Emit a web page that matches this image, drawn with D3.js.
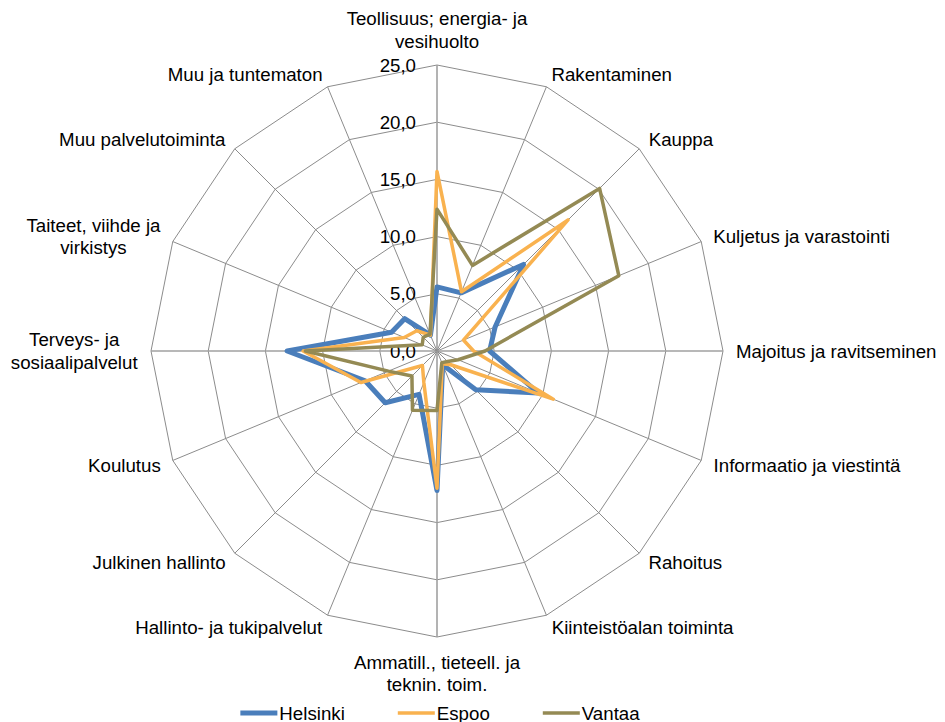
<!DOCTYPE html>
<html><head><meta charset="utf-8">
<script src="https://cdn.jsdelivr.net/npm/d3@7"></script>
<style>
body{margin:0;background:#fff}
svg{display:block}
text{font-family:"Liberation Sans",Arial,sans-serif;fill:#000}
</style>
</head><body>
<svg id="chart" width="945" height="722"></svg>
<script>
const categories = [
  "Teollisuus; energia- ja\nvesihuolto",
  "Rakentaminen",
  "Kauppa",
  "Kuljetus ja varastointi",
  "Majoitus ja ravitseminen",
  "Informaatio ja viestintä",
  "Rahoitus",
  "Kiinteistöalan toiminta",
  "Ammatill., tieteell. ja\nteknin. toim.",
  "Hallinto- ja tukipalvelut",
  "Julkinen hallinto",
  "Koulutus",
  "Terveys- ja\nsosiaalipalvelut",
  "Taiteet, viihde ja\nvirkistys",
  "Muu palvelutoiminta",
  "Muu ja tuntematon"
];
const helsinki = [5.6, 5.5, 10.7, 5.5, 4.6, 9.6, 4.8, 1.3, 12.2, 4.1, 6.4, 6.8, 13.1, 4.3, 4.0, 1.5];
const espoo    = [15.7, 5.6, 16.2, 2.5, 3.2, 11.0, 1.7, 1.2, 12.0, 3.0, 1.8, 7.2, 11.7, 3.1, 2.5, 1.5];
const vantaa   = [12.4, 8.1, 20.1, 17.2, 4.2, 2.0, 1.3, 1.1, 5.2, 5.6, 3.1, 4.6, 11.5, 1.4, 1.7, 1.6];
const seriesNames = ["Helsinki", "Espoo", "Vantaa"];
const tickValues = [0, 5, 10, 15, 20, 25];
const tickLabels = ["0,0", "5,0", "10,0", "15,0", "20,0", "25,0"];

const series = [
  {name: seriesNames[0], values: helsinki, color: "#4a7ebb", width: 5},
  {name: seriesNames[1], values: espoo,    color: "#f9b24f", width: 3.5},
  {name: seriesNames[2], values: vantaa,   color: "#948a54", width: 3.5}
];

const svg = d3.select("#chart");
const cx = 437, cy = 351, R = 286;
const FS = 18.7, LH = 22.5;
const n = categories.length;
const rScale = d3.scaleLinear().domain([0, 25]).range([0, R]);
const aScale = d3.scaleLinear().domain([0, n]).range([0, 2 * Math.PI]);

const g = svg.append("g").attr("transform", `translate(${cx},${cy})`);

// grid rings
const ringLine = d3.lineRadial().curve(d3.curveLinearClosed);
tickValues.filter(t => t > 0).forEach(t => {
  g.append("path")
    .attr("d", ringLine(categories.map((c, i) => [aScale(i), rScale(t)])))
    .attr("fill", "none").attr("stroke", "#8c8c8c").attr("stroke-width", 1);
});

// spokes
categories.forEach((c, i) => {
  const a = aScale(i);
  const main = i % 4 === 0;
  g.append("line")
    .attr("x1", 0).attr("y1", 0)
    .attr("x2", Math.sin(a) * rScale(25)).attr("y2", -Math.cos(a) * rScale(25))
    .attr("stroke", main ? "#a0a0a0" : "#8c8c8c")
    .attr("stroke-width", main ? 1.6 : 1);
});

// tick labels
tickValues.forEach((t, i) => {
  g.append("text")
    .attr("x", -21).attr("y", -rScale(t))
    .attr("text-anchor", "end").attr("dominant-baseline", "central")
    .attr("font-size", FS)
    .text(tickLabels[i]);
});

// category labels
categories.forEach((c, i) => {
  const a = aScale(i);
  const s = Math.sin(a), co = -Math.cos(a);
  const ax = Math.sin(a) * (R + 13), ay = -Math.cos(a) * (R + 13);
  const lines = c.split("\n");
  const t = g.append("text").attr("font-size", FS).attr("text-anchor", "middle");
  lines.forEach((ln, k) => {
    t.append("tspan").attr("x", 0).attr("y", k * LH).attr("dominant-baseline", "central").text(ln);
  });
  const w = t.node().getBBox().width;
  const blockH = (lines.length - 1) * LH;
  let tx, ty;
  if (Math.abs(s) < 0.1) {
    tx = ax;
    if (co < 0) ty = ay - 11 - blockH; else ty = ay + 12;
  } else {
    tx = s > 0 ? ax + w / 2 : ax - w / 2;
    ty = ay - blockH / 2;
  }
  t.attr("transform", `translate(${tx},${ty})`);
});

// series
const radial = d3.lineRadial()
  .angle((d, i) => aScale(i))
  .radius(d => rScale(d))
  .curve(d3.curveLinearClosed);
series.forEach(sr => {
  g.append("path")
    .attr("d", radial(sr.values))
    .attr("fill", "none")
    .attr("stroke", sr.color)
    .attr("stroke-width", sr.width)
    .attr("stroke-linejoin", "round");
});

// legend
const lg = svg.append("g");
let x = 0;
const ly = 713;
const items = [];
series.forEach((sr, i) => {
  const it = lg.append("g");
  it.append("line").attr("x1", x).attr("x2", x + 37).attr("y1", ly).attr("y2", ly)
    .attr("stroke", sr.color).attr("stroke-width", sr.width);
  const tx = it.append("text").attr("x", x + 39).attr("y", ly)
    .attr("dominant-baseline", "central").attr("font-size", FS).text(sr.name);
  const w = tx.node().getComputedTextLength();
  x += 39 + w + 53;
});
const total = x - 53;
lg.attr("transform", `translate(${440 - total / 2},0)`);
</script>
</body></html>
